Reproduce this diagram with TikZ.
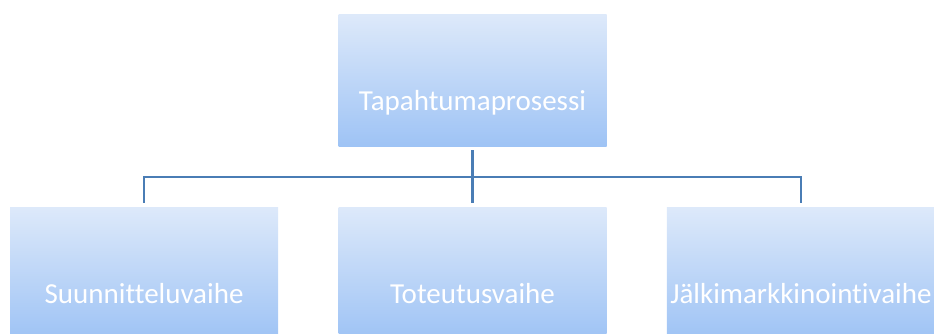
\documentclass[tikz,border=0pt]{standalone}
\usepackage{fontspec}
\setmainfont{Carlito}[Ligatures={NoCommon}]
\usetikzlibrary{positioning}
\definecolor{boxtop}{HTML}{DDE9FA}
\definecolor{boxbottom}{HTML}{9EC3F5}
\definecolor{connline}{HTML}{4A7DB5}
\tikzset{
	phase/.style={rectangle, inner sep=0pt, minimum width=268pt, minimum height=132pt,
		text height=96pt, text depth=36pt, top color=boxtop, bottom color=boxbottom,
		text=white, font=\fontsize{29}{35}\selectfont},
	conn/.style={draw=connline, line width=2.4pt},
}
\begin{document}
\begin{tikzpicture}[x=1pt, y=-1pt]
	\useasboundingbox (0,0) rectangle (934,334);
	
	\node (proc) [phase] at (472.5,81) {Tapahtumaprosessi};
	
	\node (tot) [phase, below=60pt of proc] {Toteutusvaihe};
	\node (suun) [phase, left=60pt of tot] {Suunnitteluvaihe};
	\node (jalk) [phase, right=60pt of tot] {Jälkimarkkinointivaihe};
	
	\coordinate (bus) at (472.5,177);
	
	\begin{scope}[conn]
		\draw[shorten <=3pt] (proc.south) -- (bus);
		\draw[shorten >=4pt] (bus) -| (suun.north);
		\draw[shorten >=4pt] (bus) -- (tot.north);
		\draw[shorten >=4pt] (bus) -| (jalk.north);
	\end{scope}
	
\end{tikzpicture}
\end{document}
